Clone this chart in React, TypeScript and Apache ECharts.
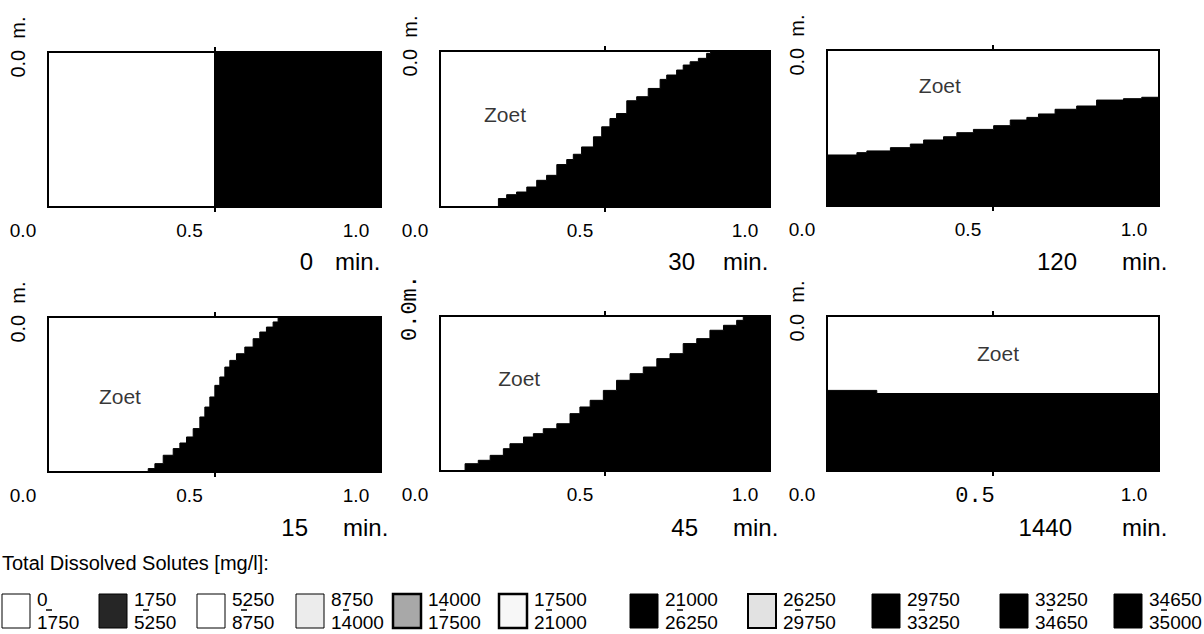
import React, { useEffect, useRef } from 'react';
import * as echarts from 'echarts';

// ---------- data ----------
const TIME_LABELS = ['0', '30', '120', '15', '45', '1440'];
const X_TICKS = [0, 0.5, 1];
const LABEL_ANNOT = 'Zoet';
const Y_LABELS = ['0.0  m.', '0.0  m.', '0.0  m.', '0.0  m.', '0.0m.', '0.0  m.'];

// interface height (fraction of panel height, salt below) vs horizontal position
const P_0: number[][] = [[0, 0], [0.5, 1], [1, 1]];
const P_30: number[][] = [
  [0, 0], [0.177, 0.054], [0.202, 0.079], [0.232, 0.096], [0.263, 0.128], [0.293, 0.171],
  [0.323, 0.203], [0.354, 0.272], [0.384, 0.304], [0.404, 0.338], [0.429, 0.385], [0.465, 0.45],
  [0.49, 0.514], [0.515, 0.567], [0.535, 0.599], [0.566, 0.681], [0.596, 0.707], [0.631, 0.76],
  [0.667, 0.818], [0.687, 0.846], [0.717, 0.878], [0.737, 0.91], [0.758, 0.931], [0.783, 0.953],
  [0.808, 0.985], [0.82, 1], [1, 1],
];
const P_120: number[][] = [
  [0, 0.327], [0.09, 0.342], [0.12, 0.353], [0.191, 0.374], [0.251, 0.397], [0.291, 0.423],
  [0.351, 0.444], [0.391, 0.47], [0.441, 0.491], [0.502, 0.515], [0.552, 0.551], [0.602, 0.568],
  [0.637, 0.59], [0.687, 0.62], [0.752, 0.641], [0.812, 0.679], [0.893, 0.688], [0.948, 0.697],
  [1, 0.701],
];
const P_15: number[][] = [
  [0, 0], [0.301, 0.022], [0.321, 0.054], [0.346, 0.108], [0.376, 0.151], [0.396, 0.187],
  [0.416, 0.226], [0.436, 0.28], [0.456, 0.355], [0.471, 0.419], [0.486, 0.484], [0.501, 0.559],
  [0.516, 0.613], [0.531, 0.677], [0.546, 0.72], [0.566, 0.763], [0.591, 0.806], [0.616, 0.86],
  [0.636, 0.903], [0.656, 0.935], [0.676, 0.968], [0.691, 1], [1, 1],
];
const P_45: number[][] = [
  [0, 0], [0.076, 0.047], [0.116, 0.069], [0.152, 0.101], [0.192, 0.144], [0.212, 0.176],
  [0.253, 0.219], [0.283, 0.241], [0.313, 0.273], [0.354, 0.305], [0.394, 0.37], [0.424, 0.413],
  [0.455, 0.456], [0.495, 0.52], [0.535, 0.585], [0.576, 0.628], [0.616, 0.671], [0.657, 0.725],
  [0.697, 0.757], [0.737, 0.822], [0.778, 0.854], [0.818, 0.908], [0.859, 0.94], [0.899, 0.972],
  [0.919, 1], [1, 1],
];
const P_1440: number[][] = [[0, 0.52], [0.15, 0.5], [1, 0.5]];
const PANELS = [P_0, P_30, P_120, P_15, P_45, P_1440];

// annotation anchor in data units (x, height); null = none
const ZOET_AT: (number[] | null)[] = [null, [0.197, 0.59], [0.34, 0.77], [0.216, 0.49], [0.24, 0.6], [0.515, 0.755]];

const LEGEND_TITLE = 'Total Dissolved Solutes [mg/l]:';
const LEGEND_LOW = ['0', '1750', '5250', '8750', '14000', '17500', '21000', '26250', '29750', '33250', '34650'];
const LEGEND_HIGH = ['1750', '5250', '8750', '14000', '17500', '21000', '26250', '29750', '33250', '34650', '35000'];

// ---------- layout / style ----------
const FONT = '"Liberation Sans", Arial, Helvetica, sans-serif';
const MONO = '"Liberation Mono", "Courier New", monospace';
const GRIDS = [
  { left: 48, top: 52, width: 333, height: 155 },
  { left: 440, top: 51, width: 330, height: 156 },
  { left: 827, top: 50, width: 332, height: 156 },
  { left: 48, top: 317, width: 333, height: 155 },
  { left: 440, top: 316, width: 330, height: 155 },
  { left: 827, top: 316, width: 332, height: 155 },
];
const TIME_POS = [
  { nr: 313, ml: 335, y: 261 },
  { nr: 695, ml: 723, y: 261 },
  { nr: 1077, ml: 1122, y: 261 },
  { nr: 308, ml: 343, y: 527 },
  { nr: 698, ml: 733, y: 527 },
  { nr: 1072, ml: 1122, y: 527 },
];
const LEGEND_X = [2, 99, 197, 296, 393, 499, 630, 748, 872, 1000, 1114];
const LEGEND_FILL = ['#ffffff', '#262626', '#ffffff', '#ececec', '#a8a8a8', '#f7f7f7', '#000000', '#e2e2e2', '#000000', '#000000', '#000000'];
const LEGEND_STROKE_W = [1, 1, 1, 1, 2.5, 2.5, 1, 2, 1, 1, 1];

export default function App() {
  const ref = useRef<HTMLDivElement>(null);

  useEffect(() => {
    if (!ref.current) return;
    const chart = echarts.init(ref.current, null, { renderer: 'svg' });

    const grid = GRIDS.map((g) => ({
      ...g,
      show: true,
      borderColor: '#000',
      borderWidth: 2,
      backgroundColor: '#fff',
      containLabel: false,
    }));

    const xAxis: any[] = [];
    const yAxis: any[] = [];
    GRIDS.forEach((_, i) => {
      xAxis.push({
        gridIndex: i,
        type: 'value',
        min: 0,
        max: 1,
        position: 'bottom',
        axisLine: { show: false },
        splitLine: { show: false },
        axisTick: { show: true, customValues: [0.5], length: 5, lineStyle: { color: '#000', width: 2 } },
        axisLabel: {
          show: true,
          customValues: X_TICKS,
          margin: 14,
          color: '#000',
          fontSize: 19,
          fontFamily: FONT,
          formatter: (v: number) =>
            i === 5 && v === 0.5 ? `{m|${v.toFixed(1)}}` : `{p|${v.toFixed(1)}}`,
          rich: {
            p: { padding: [0, 50, 0, 0], fontSize: 19, fontFamily: FONT, color: '#000' },
            m: { padding: [0, 36, 0, 0], fontSize: 22, fontFamily: MONO, color: '#000' },
          },
        },
      });
      xAxis.push({
        gridIndex: i,
        type: 'value',
        min: 0,
        max: 1,
        position: 'top',
        axisLine: { show: false },
        splitLine: { show: false },
        axisTick: { show: true, customValues: [0.5], length: 5, lineStyle: { color: '#000', width: 2 } },
        axisLabel: { show: false },
      });
      yAxis.push({ gridIndex: i, type: 'value', min: 0, max: 1, show: false });
    });

    const series: any[] = [];
    PANELS.forEach((data, i) => {
      series.push({
        type: 'line',
        xAxisIndex: i * 2,
        yAxisIndex: i,
        data,
        step: 'end',
        symbol: 'none',
        silent: true,
        lineStyle: { color: '#000', width: 1 },
        areaStyle: { color: '#000', opacity: 1, origin: 'start' },
        z: 3,
      });
      const z = ZOET_AT[i];
      if (z) {
        series.push({
          type: 'scatter',
          xAxisIndex: i * 2,
          yAxisIndex: i,
          data: [z],
          symbolSize: 1,
          silent: true,
          itemStyle: { color: 'rgba(0,0,0,0)' },
          label: {
            show: true,
            position: 'inside',
            formatter: LABEL_ANNOT,
            color: '#000',
            fontSize: 21,
            fontFamily: FONT,
          },
          z: 4,
        });
      }
    });

    const graphic: any[] = [];
    GRIDS.forEach((g, i) => {
      const mono = i === 4;
      graphic.push({
        type: 'text',
        x: g.left - 30,
        y: g.top - (mono ? 8 : 5),
        rotation: Math.PI / 2,
        style: {
          text: Y_LABELS[i],
          fontSize: mono ? 22 : 20,
          fontFamily: mono ? MONO : FONT,
          fill: '#000',
          align: 'center',
          verticalAlign: 'middle',
        },
      });
      const tp = TIME_POS[i];
      graphic.push({
        type: 'text',
        x: tp.nr,
        y: tp.y,
        style: { text: TIME_LABELS[i], fontSize: 24, fontFamily: FONT, fill: '#000', align: 'right', verticalAlign: 'middle' },
      });
      graphic.push({
        type: 'text',
        x: tp.ml,
        y: tp.y,
        style: { text: 'min.', fontSize: 24, fontFamily: FONT, fill: '#000', align: 'left', verticalAlign: 'middle' },
      });
    });

    graphic.push({
      type: 'text',
      x: 2,
      y: 563,
      style: { text: LEGEND_TITLE, fontSize: 20, fontFamily: FONT, fill: '#000', align: 'left', verticalAlign: 'middle' },
    });
    LEGEND_LOW.forEach((lo, k) => {
      const x = LEGEND_X[k];
      graphic.push({
        type: 'rect',
        shape: { x, y: 594, width: 28, height: 34 },
        style: { fill: LEGEND_FILL[k], stroke: '#000', lineWidth: LEGEND_STROKE_W[k] },
      });
      const tx = x + 35;
      graphic.push({
        type: 'text', x: tx, y: 599,
        style: { text: lo, fontSize: 19, fontFamily: FONT, fill: '#000', align: 'left', verticalAlign: 'middle' },
      });
      graphic.push({
        type: 'text', x: tx, y: 622,
        style: { text: LEGEND_HIGH[k], fontSize: 19, fontFamily: FONT, fill: '#000', align: 'left', verticalAlign: 'middle' },
      });
      const dx = tx + (LEGEND_HIGH[k].length > 4 ? 15 : 12);
      graphic.push({
        type: 'line',
        shape: { x1: dx - 3, y1: 610, x2: dx + 3, y2: 610 },
        style: { stroke: '#000', lineWidth: 1.5 },
      });
    });

    chart.setOption({
      animation: false,
      backgroundColor: '#fff',
      grid,
      xAxis,
      yAxis,
      series,
      graphic,
    });

    return () => chart.dispose();
  }, []);

  return (
    <div
      ref={ref}
      style={{ position: 'fixed', left: 0, top: 0, width: 1204, height: 634, background: '#fff' }}
    />
  );
}
